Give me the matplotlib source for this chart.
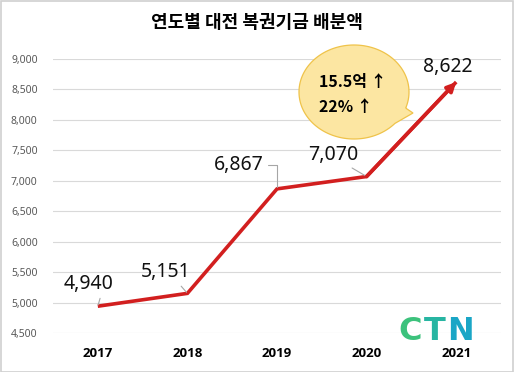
import matplotlib
matplotlib.use("Agg")
import matplotlib.pyplot as plt
from matplotlib.patches import Rectangle, PathPatch
from matplotlib.path import Path
import numpy as np

# data
years = ["2017", "2018", "2019", "2020", "2021"]
amounts = [4940, 5151, 6867, 7070, 8622]
labels = ["4,940", "5,151", "6,867", "7,070", "8,622"]
yticks = [4500, 5000, 5500, 6000, 6500, 7000, 7500, 8000, 8500, 9000]

# label offsets (pixels, from point to label centre)
offsets = [(-9, 22), (-22, 21), (-38, 24), (-33, 22), (-8, 15)]

W, H = 514, 372
RED = "#D21F1F"
KR = ["Noto Sans CJK KR", "DejaVu Sans"]


def px(x, y):
    return x / W, 1 - y / H


fig = plt.figure(figsize=(W / 100, H / 100), dpi=100)
fig.patch.set_facecolor("white")
fig.patches.append(Rectangle((0.001, 0.001), 0.997, 0.996, transform=fig.transFigure,
                             fill=False, edgecolor="#D0D0D0", lw=1.2))

ax = fig.add_axes([53 / W, 1 - 333 / H, 448 / W, 274 / H])
x = np.arange(len(years))
ax.set_xlim(-0.5, len(years) - 0.5)
ax.set_ylim(4500, 9000)
ax.set_yticks(yticks)
ax.set_yticklabels([f"{v:,}" for v in yticks], fontsize=7.5, color="#595959", family="Noto Sans")
ax.set_xticks(x)
ax.set_xticklabels(years, fontsize=9.5, fontweight="bold", family="Open Sans")
ax.tick_params(length=0)
ax.tick_params(axis="y", pad=11)
ax.tick_params(axis="x", pad=10)
for s in ax.spines.values():
    s.set_visible(False)
ax.grid(axis="y", color="#D9D9D9", lw=0.8)
ax.set_axisbelow(True)

ax.plot(x, amounts, color=RED, lw=2.6, solid_capstyle="butt", solid_joinstyle="miter", zorder=3)
ax.annotate("", xy=(x[-1], amounts[-1]), xytext=(x[-2], amounts[-2]),
            arrowprops=dict(arrowstyle="-|>", color=RED, lw=2.6, mutation_scale=13,
                            shrinkA=0, shrinkB=0), zorder=4)

for i, (lab, (dx, dy)) in enumerate(zip(labels, offsets)):
    if i == 4:
        ax.annotate(lab, xy=(x[i], amounts[i]), xytext=(dx, dy), textcoords="offset pixels",
                    ha="center", va="center", fontsize=14, family="Noto Sans", color="#111111")
        continue
    if i == 2:
        cs = "angle,angleA=0,angleB=90,rad=0"
        rp = (1.0, 0.5)
    else:
        cs = "arc3"
        rp = (0.75, 0.0)
    ax.annotate(lab, xy=(x[i], amounts[i]), xytext=(dx, dy), textcoords="offset pixels",
                ha="center", va="center", fontsize=14, family="Noto Sans", color="#111111",
                arrowprops=dict(arrowstyle="-", color="#A6A6A6", lw=0.8, connectionstyle=cs,
                                relpos=rp, shrinkA=1, shrinkB=1))

# title
fig.text(*px(257, 22), "연도별 대전 복권기금 배분액", ha="center", va="center",
         fontsize=13, fontweight="bold", family=KR)

# speech bubble
cx, cy, a, b = 354, 92, 55, 47
t = np.linspace(np.deg2rad(-20), np.deg2rad(-20) + 2 * np.pi - np.deg2rad(22), 200)
pts = [(cx + a * np.cos(tt), cy - b * np.sin(tt)) for tt in t]
pts.append((413, 113))
pts.append(pts[0])
verts = [px(p[0], p[1]) for p in pts]
bubble = PathPatch(Path(verts), transform=fig.transFigure, facecolor="#FCE6A2",
                   edgecolor="#EFC34A", lw=0.9)
fig.patches.append(bubble)
fig.text(*px(319, 82), "15.5억 ↑", ha="left", va="center", fontsize=11.5,
         fontweight="bold", family=KR)
fig.text(*px(319, 107), "22% ↑", ha="left", va="center", fontsize=11.5,
         fontweight="bold", family=KR)

# logo
for ch, xx, col in [("C", 410, "#3CC27C"), ("T", 435, "#27B5A2"), ("N", 460, "#1AA6C6")]:
    fig.text(*px(xx, 331), ch, ha="center", va="center", fontsize=23,
             fontweight="bold", family="DejaVu Sans", color=col)

fig.savefig("out.png", dpi=100)
